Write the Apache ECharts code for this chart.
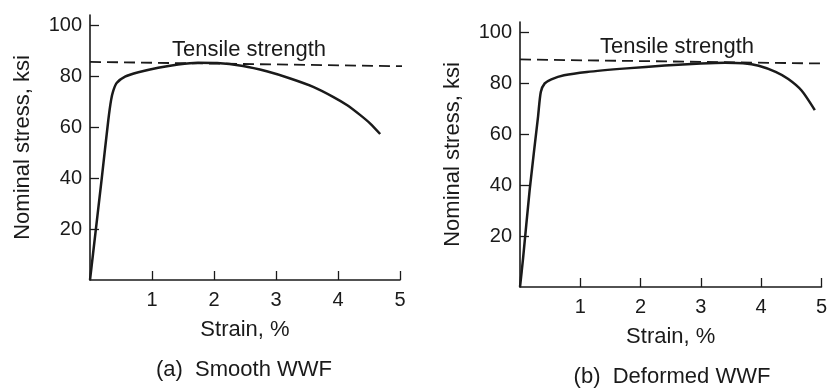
<!DOCTYPE html>
<html>
<head>
<meta charset="utf-8">
<script src="https://cdn.jsdelivr.net/npm/echarts@6/dist/echarts.min.js"></script>
<style>
  html, body { margin: 0; padding: 0; background: #fff; }
  #chart { width: 830px; height: 388px; }
</style>
</head>
<body>
<div id="chart"></div>
<script>
// (a) smooth WWF
const strainA = [0, 0.05, 0.19, 0.295, 0.34, 0.376, 0.43, 0.565, 0.78, 1.1, 1.42, 1.74, 2.05, 2.47, 2.85, 3.23, 3.6, 3.92, 4.15, 4.35, 4.52, 4.68]
const stressA = [0, 10.5, 40, 62.7, 70.6, 74.3, 77.3, 79.8, 81.5, 83.3, 84.6, 85.3, 85.2, 84, 81.9, 79.1, 75.8, 71.9, 68.6, 64.9, 61.4, 57.3]
const tensileA = [[0, 85.6], [5.05, 83.9]]

// (b) deformed WWF
const strainB = [0, 0.05, 0.16, 0.3, 0.345, 0.41, 0.52, 0.73, 1.11, 1.77, 2.4, 3.0, 3.4, 3.7, 3.96, 4.24, 4.45, 4.67, 4.89]
const stressB = [0, 11, 38, 67, 76.5, 79.9, 81.5, 83.1, 84.4, 85.8, 86.9, 87.7, 88, 87.8, 86.8, 84.4, 81.6, 77.1, 69.4]
const tensileB = [[0, 89.3], [5.06, 87.7]]

const xTicks = [1, 2, 3, 4, 5]
const yTicks = [20, 40, 60, 80, 100]

const ink = '#1a1a1a'
const font = 'Liberation Sans, Arial, sans-serif'

function pairs(xs, ys) {
  return xs.map((x, i) => [x, ys[i]])
}

function xAxis(idx) {
  return {
    gridIndex: idx, type: 'value', min: 0, max: 5,
    name: 'Strain, %', nameLocation: 'middle', nameGap: 39,
    nameTextStyle: { color: ink, fontSize: 22, fontFamily: font },
    axisLine: { lineStyle: { color: ink, width: 1.6 } },
    axisTick: { inside: true, length: 9, customValues: xTicks, lineStyle: { color: ink, width: 1.3 } },
    axisLabel: { customValues: xTicks, margin: 10, color: ink, fontSize: 20, fontFamily: font },
    splitLine: { show: false }
  }
}

function yAxis(idx) {
  return {
    gridIndex: idx, type: 'value', min: 0, max: 104,
    name: 'Nominal stress, ksi', nameLocation: 'middle', nameGap: 56,
    nameTextStyle: { color: ink, fontSize: 22, fontFamily: font },
    axisLine: { show: true, lineStyle: { color: ink, width: 1.6 } },
    axisTick: { show: true, inside: true, length: 9, customValues: yTicks, lineStyle: { color: ink, width: 1.3 } },
    axisLabel: { customValues: yTicks, margin: 8, color: ink, fontSize: 20, fontFamily: font },
    splitLine: { show: false }
  }
}

function curve(idx, data) {
  return {
    type: 'line', xAxisIndex: idx, yAxisIndex: idx, data: data,
    smooth: 0.25, symbol: 'none', clip: false,
    lineStyle: { color: ink, width: 2.5 }
  }
}

function dashed(idx, data) {
  return {
    type: 'line', xAxisIndex: idx, yAxisIndex: idx, data: data,
    symbol: 'none', clip: false,
    lineStyle: { color: ink, width: 1.8, type: [11, 6] }
  }
}

function text(x, y, str) {
  return {
    type: 'text', x: x, y: y,
    style: { text: str, fill: ink, font: '22px ' + font, textAlign: 'center', textVerticalAlign: 'middle' }
  }
}

const chart = echarts.init(document.getElementById('chart'))
chart.setOption({
  animation: false,
  backgroundColor: '#fff',
  grid: [
    { left: 90, top: 15, width: 310, height: 265 },
    { left: 520, top: 22, width: 307, height: 265 }
  ],
  xAxis: [xAxis(0), xAxis(1)],
  yAxis: [yAxis(0), yAxis(1)],
  series: [
    dashed(0, tensileA),
    curve(0, pairs(strainA, stressA)),
    dashed(1, tensileB),
    curve(1, pairs(strainB, stressB))
  ],
  graphic: [
    text(249, 50, 'Tensile strength'),
    text(677, 47, 'Tensile strength'),
    text(244, 370, '(a)  Smooth WWF'),
    text(672, 377, '(b)  Deformed WWF')
  ]
})
</script>
</body>
</html>
